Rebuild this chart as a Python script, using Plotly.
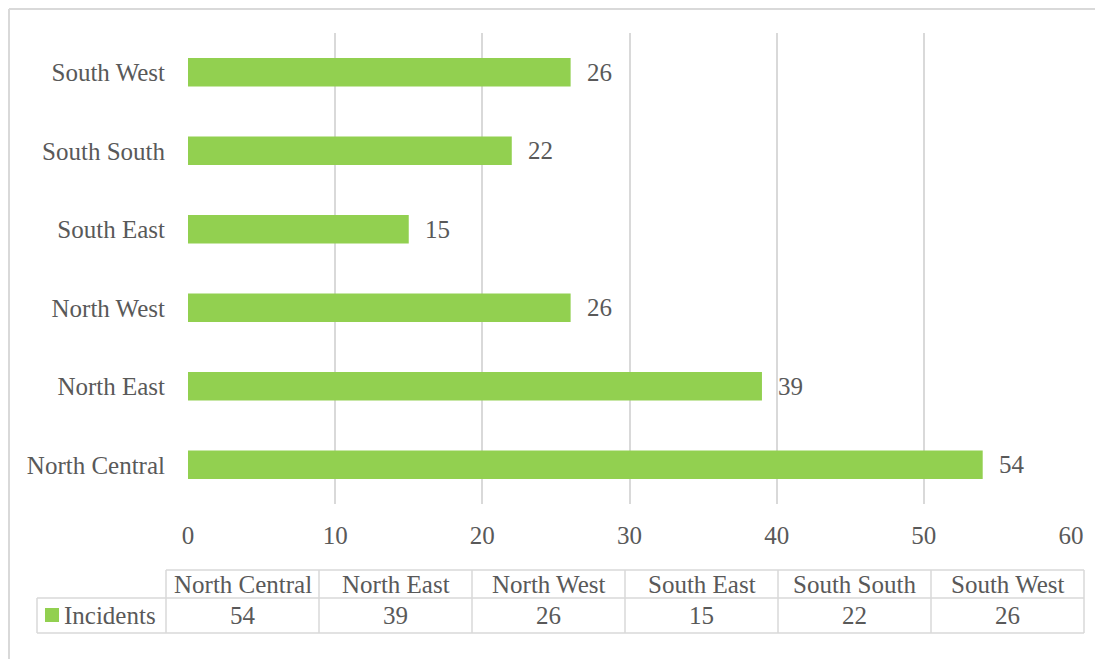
import plotly.graph_objects as go

regions = ["North Central", "North East", "North West", "South East", "South South", "South West"]
incidents = [54, 39, 26, 15, 22, 26]
series_name = "Incidents"
x_ticks = [0, 10, 20, 30, 40, 50, 60]

BAR = "#92D050"
TXT = "#595959"
GRID = "#D9D9D9"
FONT = "Liberation Serif"
FS = 25

OFF = 8                      # browser body margin
W, H = 1103 - OFF, 659 - OFF
# plot area in page (reference) pixels
PL, PR, PT, PB = 188, 1071, 33, 504
L, R, T, B = PL - OFF, W - (PR - OFF), PT - OFF, H - (PB - OFF)
PW = PR - PL
PH = PB - PT

def px(xp):
    return (xp - PL) / PW

def py(yp):
    return (PB - yp) / PH

fig = go.Figure()
fig.add_trace(go.Bar(
    y=regions, x=incidents, orientation="h",
    marker=dict(color=BAR, line=dict(width=0)),
    width=0.36, name=series_name, showlegend=False,
    hoverinfo="x+y",
))

annotations = []
for r, v in zip(regions, incidents):
    annotations.append(dict(x=v, y=r, xref="x", yref="y", text=str(v),
                            showarrow=False, xanchor="left", xshift=14,
                            font=dict(family=FONT, size=FS, color=TXT)))

# data table below the axis
col0_left, col_left, col_w = 37, 166, 153
row_top, row_mid, row_bot = 570, 598, 633
shapes = []
line = dict(color=GRID, width=1.5)
right_edge = col_left + col_w * len(regions)
shapes.append(dict(type="line", xref="paper", yref="paper", x0=px(col_left), x1=px(right_edge),
                   y0=py(row_top), y1=py(row_top), line=line))
shapes.append(dict(type="line", xref="paper", yref="paper", x0=px(col0_left), x1=px(right_edge),
                   y0=py(row_mid), y1=py(row_mid), line=line))
shapes.append(dict(type="line", xref="paper", yref="paper", x0=px(col0_left), x1=px(right_edge),
                   y0=py(row_bot), y1=py(row_bot), line=line))
shapes.append(dict(type="line", xref="paper", yref="paper", x0=px(col0_left), x1=px(col0_left),
                   y0=py(row_mid), y1=py(row_bot), line=line))
for i in range(len(regions) + 1):
    xx = px(col_left + col_w * i)
    shapes.append(dict(type="line", xref="paper", yref="paper", x0=xx, x1=xx,
                       y0=py(row_top), y1=py(row_bot), line=line))
# legend key square
shapes.append(dict(type="rect", xref="paper", yref="paper", x0=px(45), x1=px(59),
                   y0=py(608), y1=py(622), fillcolor=BAR, line=dict(width=0)))
for i, (r, v) in enumerate(zip(regions, incidents)):
    cx = px(col_left + col_w * (i + 0.5))
    annotations.append(dict(x=cx, y=py((row_top + row_mid) / 2), xref="paper", yref="paper",
                            text=r, showarrow=False, xanchor="center", yanchor="middle",
                            font=dict(family=FONT, size=FS, color=TXT)))
    annotations.append(dict(x=cx, y=py((row_mid + row_bot) / 2), xref="paper", yref="paper",
                            text=str(v), showarrow=False, xanchor="center", yanchor="middle",
                            font=dict(family=FONT, size=FS, color=TXT)))
annotations.append(dict(x=px(62), y=py((row_mid + row_bot) / 2), xref="paper", yref="paper",
                        text=series_name, showarrow=False, xanchor="left", yanchor="middle",
                        font=dict(family=FONT, size=FS, color=TXT)))

# outer chart frame (top and left edges visible)
frame = dict(color=GRID, width=2)
shapes.append(dict(type="line", xref="paper", yref="paper", x0=px(9), x1=px(1103 + 20),
                   y0=py(9), y1=py(9), line=frame, layer="below"))
shapes.append(dict(type="line", xref="paper", yref="paper", x0=px(9), x1=px(9),
                   y0=py(9), y1=py(659 + 20), line=frame, layer="below"))

fig.update_layout(
    width=W, height=H,
    margin=dict(l=L, r=R, t=T, b=B, pad=0),
    paper_bgcolor="white", plot_bgcolor="white",
    font=dict(family=FONT, size=FS, color=TXT),
    xaxis=dict(range=[0, 60], tickvals=x_ticks, showgrid=True, gridcolor=GRID, gridwidth=1.5,
               zeroline=False, showline=False, ticks="", ticklabelstandoff=14,
               tickfont=dict(family=FONT, size=FS, color=TXT), fixedrange=True),
    yaxis=dict(categoryorder="array", categoryarray=regions, showgrid=False, zeroline=False,
               showline=False, ticks="", ticklabelstandoff=22,
               tickfont=dict(family=FONT, size=FS, color=TXT), fixedrange=True),
    bargap=0.64,
    shapes=shapes,
    annotations=annotations,
    showlegend=False,
)

fig.write_html("out.html")
